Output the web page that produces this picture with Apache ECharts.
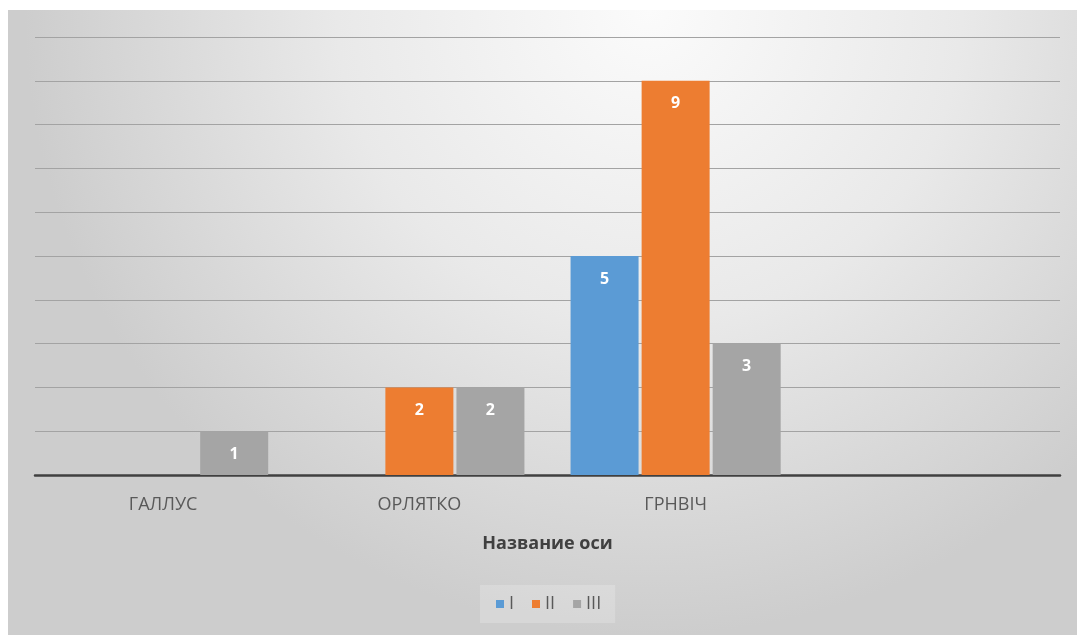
<!DOCTYPE html>
<html>
<head>
<meta charset="utf-8">
<style>
  html, body { margin: 0; padding: 0; background: #ffffff; }
  #chart { width: 1077px; height: 635px; }
</style>
<script src="https://cdn.jsdelivr.net/npm/echarts@6/dist/echarts.min.js"></script>
</head>
<body>
<div id="chart"></div>
<script>
const categories = ['ГАЛЛУС', 'ОРЛЯТКО', 'ГРНВІЧ', ''];
const seriesNames = ['I', 'II', 'III'];
const valuesI = [null, null, 5, null];
const valuesII = [null, 2, 9, null];
const valuesIII = [1, 2, 3, null];
const colors = ['#5B9BD5', '#ED7D31', '#A5A5A5'];

const chart = echarts.init(document.getElementById('chart'));
const FONT = '"Open Sans", "Noto Sans", sans-serif';

function mkSeries(name, data, color) {
  return {
    name: name,
    type: 'bar',
    data: data,
    barWidth: 68,
    barGap: '4.5%',
    itemStyle: { color: color },
    label: {
      show: true,
      position: 'insideTop',
      distance: 15,
      color: '#ffffff',
      fontWeight: 'bold',
      fontSize: 16,
      fontFamily: FONT
    }
  };
}

chart.setOption({
  animation: false,
  textStyle: { fontFamily: FONT },
  graphic: [{
    type: 'rect',
    z: -100,
    silent: true,
    shape: { x: 8, y: 10, width: 1069, height: 625 },
    style: {
      fill: {
        type: 'radial', x: 0.6, y: 0.0, r: 1.0,
        colorStops: [
          { offset: 0, color: '#fbfbfb' },
          { offset: 0.5, color: '#e9e9e9' },
          { offset: 1, color: '#cdcdcd' }
        ]
      }
    }
  }],
  grid: { left: 35, right: 17, top: 37, bottom: 160 },
  legend: {
    data: seriesNames,
    left: 480,
    top: 585,
    itemWidth: 8,
    itemHeight: 8,
    itemGap: 18,
    icon: 'rect',
    backgroundColor: 'rgba(255,255,255,0.2)',
    padding: [10, 14, 10, 16],
    textStyle: { color: '#595959', fontSize: 18, fontFamily: FONT }
  },
  xAxis: {
    type: 'category',
    data: categories,
    name: 'Название оси',
    nameLocation: 'middle',
    nameGap: 60,
    nameTextStyle: { color: '#404040', fontSize: 18, fontWeight: 'bold', fontFamily: FONT },
    axisLine: { lineStyle: { color: '#404040', width: 2.5 } },
    axisTick: { show: false },
    axisLabel: { color: '#595959', fontSize: 18, margin: 21, fontFamily: FONT },
    splitLine: { show: false }
  },
  yAxis: {
    type: 'value',
    min: 0,
    max: 10,
    interval: 1,
    axisLine: { show: false },
    axisTick: { show: false },
    axisLabel: { show: false },
    splitLine: { lineStyle: { color: '#a3a3a3', width: 1.2 } }
  },
  series: [
    mkSeries(seriesNames[0], valuesI, colors[0]),
    mkSeries(seriesNames[1], valuesII, colors[1]),
    mkSeries(seriesNames[2], valuesIII, colors[2])
  ]
});
</script>
</body>
</html>
